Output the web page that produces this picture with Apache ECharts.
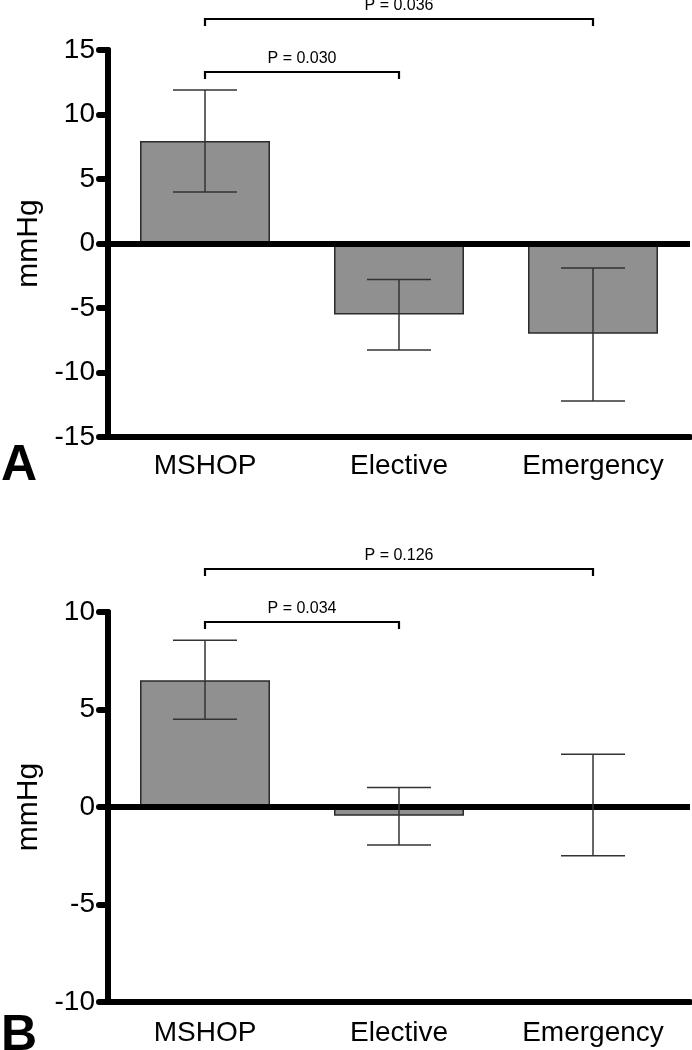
<!DOCTYPE html>
<html>
<head>
<meta charset="utf-8">
<script src="https://cdn.jsdelivr.net/npm/echarts@6/dist/echarts.min.js"></script>
<style>
html,body{margin:0;padding:0;background:#fff;}
#chart{width:692px;height:1050px;}
</style>
</head>
<body>
<div id="chart"></div>
<script>
// ---- data ----
var categories = ['MSHOP', 'Elective', 'Emergency'];

var meanA  = [7.95, -5.5, -7.0];
var upperA = [11.9, -2.8, -1.9];
var lowerA = [4.0, -8.25, -12.2];

var meanB  = [6.5, -0.45, 0.1];
var upperB = [8.55, 1.0, 2.7];
var lowerB = [4.5, -1.95, -2.5];

var yTicksA = [-15, 15, 5];   // min, max, interval
var yTicksB = [-10, 10, 5];

var pLabelsA = ['P = 0.030', 'P = 0.036'];
var pPairsA  = [[0, 1], [0, 2]];
var pLabelsB = ['P = 0.034', 'P = 0.126'];
var pPairsB  = [[0, 1], [0, 2]];

var yName = 'mmHg';
var panelNames = ['A', 'B'];

// ---- chart ----
var FONT = "'Liberation Sans', Arial, Helvetica, sans-serif";
var chart = echarts.init(document.getElementById('chart'), null, {renderer: 'canvas'});

function errData(lo, hi) {
  return categories.map(function (c, i) { return [i, lo[i], hi[i]]; });
}
function bracketData(pairs, levels) {
  return pairs.map(function (p, i) { return [p[0], p[1], levels[i], i]; });
}
function errRender(params, api) {
  var i = api.value(0);
  var lo = api.coord([i, api.value(1)]);
  var hi = api.coord([i, api.value(2)]);
  var half = 32;
  var st = {stroke: '#333', lineWidth: 1.5, fill: null};
  return {
    type: 'group',
    children: [
      {type: 'line', shape: {x1: lo[0], y1: lo[1], x2: hi[0], y2: hi[1]}, style: st},
      {type: 'line', shape: {x1: hi[0] - half, y1: hi[1], x2: hi[0] + half, y2: hi[1]}, style: st},
      {type: 'line', shape: {x1: lo[0] - half, y1: lo[1], x2: lo[0] + half, y2: lo[1]}, style: st}
    ]
  };
}
function makeBracketRender(labels) {
  return function (params, api) {
    var a = api.coord([api.value(0), api.value(2)]);
    var b = api.coord([api.value(1), api.value(2)]);
    var y = Math.round(a[1]);
    return {
      type: 'group',
      children: [
        {type: 'polyline', shape: {points: [[a[0], y + 7], [a[0], y], [b[0], y], [b[0], y + 7]]},
         style: {stroke: '#000', lineWidth: 2.2, fill: null}},
        {type: 'text', x: (a[0] + b[0]) / 2, y: y - 13,
         style: {text: labels[api.value(3)], fontSize: 16, fontFamily: FONT, fill: '#000',
                 align: 'center', verticalAlign: 'middle'}}
      ]
    };
  };
}

var grids = [
  {left: 108, right: 2, top: 50, height: 387},
  {left: 108, right: 2, top: 612, height: 390}
];

function xAxisFor(gi, labelMargin) {
  return {
    type: 'category', gridIndex: gi, data: categories,
    axisLine: {onZero: false, lineStyle: {color: '#000', width: 6}},
    axisTick: {alignWithLabel: true, length: 9, lineStyle: {color: '#000', width: 5, cap: 'round'}},
    axisLabel: {fontSize: 28, fontFamily: FONT, color: '#000', margin: labelMargin},
    splitLine: {show: false}
  };
}
function yAxisFor(gi, t) {
  return {
    type: 'value', gridIndex: gi, min: t[0], max: t[1], interval: t[2],
    name: yName, nameLocation: 'middle', nameGap: 63,
    nameTextStyle: {fontSize: 30, fontFamily: FONT, color: '#000'},
    axisLine: {show: true, lineStyle: {color: '#000', width: 6}},
    axisTick: {show: true, length: 9, lineStyle: {color: '#000', width: 6, cap: 'round'}},
    axisLabel: {fontSize: 28, fontFamily: FONT, color: '#000', margin: 13},
    splitLine: {show: false}
  };
}
function barSeries(gi, data) {
  return {
    type: 'bar', xAxisIndex: gi, yAxisIndex: gi, data: data, barWidth: '67%',
    itemStyle: {color: '#909090', borderColor: '#2a2a2a', borderWidth: 1.5},
    markLine: {
      silent: true, symbol: 'none', label: {show: false},
      lineStyle: {color: '#000', width: 6, type: 'solid'},
      data: [{yAxis: 0}]
    },
    z: 2
  };
}

var option = {
  animation: false,
  backgroundColor: '#fff',
  grid: grids,
  xAxis: [xAxisFor(0, 15), xAxisFor(1, 17)],
  yAxis: [yAxisFor(0, yTicksA), yAxisFor(1, yTicksB)],
  graphic: [
    {type: 'text', left: 1, top: 441, style: {text: panelNames[0], fontSize: 50, fontWeight: 'bold', fontFamily: FONT, fill: '#000'}},
    {type: 'text', left: 1, top: 1011, style: {text: panelNames[1], fontSize: 50, fontWeight: 'bold', fontFamily: FONT, fill: '#000'}}
  ],
  series: [
    barSeries(0, meanA),
    barSeries(1, meanB),
    {type: 'custom', xAxisIndex: 0, yAxisIndex: 0, renderItem: errRender, data: errData(lowerA, upperA), z: 5},
    {type: 'custom', xAxisIndex: 1, yAxisIndex: 1, renderItem: errRender, data: errData(lowerB, upperB), z: 5},
    {type: 'custom', xAxisIndex: 0, yAxisIndex: 0, clip: false, renderItem: makeBracketRender(pLabelsA),
     data: bracketData(pPairsA, [13.3, 17.4]), z: 5},
    {type: 'custom', xAxisIndex: 1, yAxisIndex: 1, clip: false, renderItem: makeBracketRender(pLabelsB),
     data: bracketData(pPairsB, [9.5, 12.2]), z: 5}
  ]
};
chart.setOption(option);
</script>
</body>
</html>
